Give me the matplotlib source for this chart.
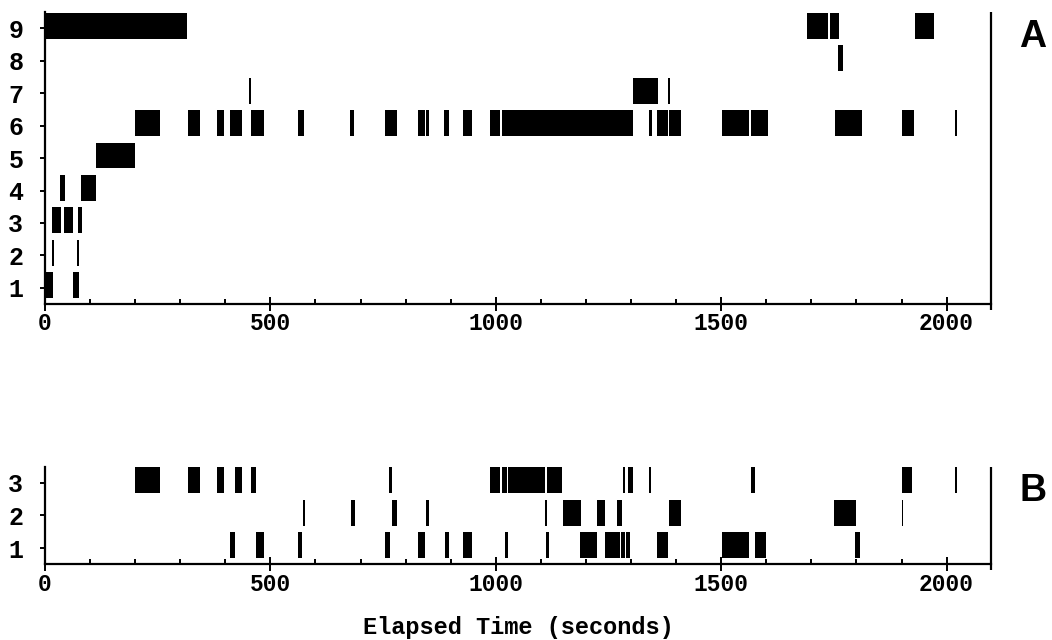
import matplotlib
matplotlib.use("Agg")
import matplotlib.pyplot as plt
from matplotlib.ticker import MultipleLocator, FixedLocator

# ---------------- data: (start, end) in seconds for each row ----------------
A_ROW1 = [(0, 17), (61, 76)]
A_ROW2 = [(16, 21), (71, 76)]
A_ROW3 = [(16, 36), (42, 63), (74, 81)]
A_ROW4 = [(34, 44), (80, 114)]
A_ROW5 = [(113, 199)]
A_ROW6 = [(200, 255), (317, 344), (381, 396), (411, 436), (458, 486), (561, 575),
          (676, 686), (754, 780), (827, 842), (845, 852), (886, 897), (927, 948),
          (987, 1009), (1013, 1304), (1340, 1346), (1358, 1382), (1384, 1410),
          (1501, 1562), (1565, 1603), (1752, 1812), (1900, 1928), (2018, 2022)]
A_ROW7 = [(452, 457), (1304, 1341), (1343, 1360), (1383, 1387)]
A_ROW8 = [(1760, 1770)]
A_ROW9 = [(0, 314), (1690, 1737), (1742, 1762), (1931, 1972)]

B_ROW1 = [(411, 421), (467, 485), (561, 571), (754, 765), (827, 842), (887, 897),
          (927, 948), (1021, 1026), (1112, 1118), (1187, 1225), (1243, 1276),
          (1277, 1287), (1288, 1297), (1358, 1382), (1501, 1561), (1575, 1600),
          (1797, 1808)]
B_ROW2 = [(572, 577), (678, 688), (769, 780), (845, 852), (1109, 1114), (1148, 1188),
          (1225, 1242), (1268, 1279), (1384, 1410), (1751, 1800), (1900, 1903)]
B_ROW3 = [(200, 255), (317, 344), (381, 396), (421, 436), (458, 469), (763, 769),
          (987, 1009), (1013, 1024), (1027, 1110), (1113, 1147), (1282, 1286),
          (1294, 1304), (1340, 1345), (1567, 1574), (1900, 1924), (2018, 2022)]

A_ROWS = [A_ROW1, A_ROW2, A_ROW3, A_ROW4, A_ROW5, A_ROW6, A_ROW7, A_ROW8, A_ROW9]
B_ROWS = [B_ROW1, B_ROW2, B_ROW3]

X_MAJOR = [0, 500, 1000, 1500, 2000]
X_LABELS = ["0", "500", "1000", "1500", "2000"]
X_MAX = 2098
XLABEL = "Elapsed Time (seconds)"

MONO = "Liberation Mono"

fig = plt.figure(figsize=(10.52, 6.4), dpi=100)
axA = fig.add_axes([0.0428, 0.525, 0.899, 0.456])
axB = fig.add_axes([0.0428, 0.1183, 0.899, 0.1525])


def draw(ax, rows):
    for i, row in enumerate(rows, start=1):
        ax.broken_barh([(s, max(e - s, 4)) for s, e in row], (i - 0.32, 0.8),
                       facecolors="black", edgecolor="none", linewidth=0)
    n = len(rows)
    ax.set_xlim(0, X_MAX)
    ax.set_ylim(0.5, n + 0.5)
    ax.spines["top"].set_visible(False)
    ax.spines["right"].set_visible(False)
    for s in ("left", "bottom"):
        ax.spines[s].set_linewidth(1.6)
        ax.spines[s].set_color("black")
    # right frame line, slightly extending below the x axis
    ax.plot([1, 1], [-6.0 / (ax.get_position().height * 640), 1.0],
            transform=ax.transAxes, color="black", lw=1.6, clip_on=False,
            solid_capstyle="butt")
    ax.xaxis.set_major_locator(FixedLocator(X_MAJOR))
    ax.set_xticklabels(X_LABELS)
    ax.xaxis.set_minor_locator(MultipleLocator(100))
    ax.set_yticks(list(range(1, n + 1)))
    ax.set_yticklabels([str(v) for v in range(1, n + 1)])
    ax.tick_params(axis="x", which="major", direction="inout", length=10, width=1.4,
                   pad=1, top=False)
    ax.tick_params(axis="x", which="minor", direction="in", length=3.5, width=1.4,
                   top=False)
    ax.tick_params(axis="y", which="major", direction="out", length=3.6, width=1.4,
                   pad=12, right=False)
    for lab in ax.get_xticklabels():
        lab.set_fontfamily(MONO)
        lab.set_fontweight("bold")
        lab.set_fontsize(16.5)
    for lab in ax.get_yticklabels():
        lab.set_fontfamily(MONO)
        lab.set_fontweight("bold")
        lab.set_fontsize(18)


draw(axA, A_ROWS)
draw(axB, B_ROWS)

fig.text(0.4925, 0.02, XLABEL, ha="center", va="center", fontfamily=MONO,
         fontweight="bold", fontsize=17)
fig.text(0.982, 0.942, "A", ha="center", va="center", fontfamily="Liberation Sans",
         fontweight="bold", fontsize=27)
fig.text(0.982, 0.233, "B", ha="center", va="center", fontfamily="Liberation Sans",
         fontweight="bold", fontsize=27)

fig.savefig("out.png", dpi=100, facecolor="white")
